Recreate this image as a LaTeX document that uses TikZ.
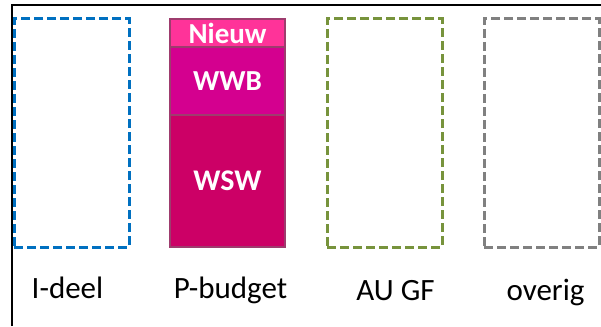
\documentclass[tikz,border=0pt]{standalone}
\usepackage{fontspec}
\setmainfont{Carlito}
\usetikzlibrary{positioning}
\definecolor{ideelblue}{HTML}{0070C0}
\definecolor{augreen}{HTML}{77933C}
\definecolor{overiggray}{HTML}{808080}
\definecolor{nieuwpink}{HTML}{FF3399}
\definecolor{wwbpink}{HTML}{D4008F}
\definecolor{wswred}{HTML}{CC0066}
\definecolor{stackedge}{HTML}{9E3C6E}
\begin{document}
\begin{tikzpicture}[x=1pt,y=1pt]
        \tikzstyle{potje}=[rectangle, dashed, dash pattern=on 9pt off 4pt, line width=3pt, minimum width=115pt, minimum height=228pt, outer sep=0pt, inner sep=0pt]
        \tikzstyle{deel}=[rectangle, draw=stackedge, line width=1.8pt, minimum width=115pt, outer sep=0pt, inner sep=0pt, text=white, font=\bfseries]
        \tikzstyle{naam}=[inner sep=0pt, anchor=base, font=\fontsize{31}{33}\selectfont]
    
        \useasboundingbox (0,0) rectangle (601,-326);
        \draw[line width=2.2pt] (12,-326) -- (12,-5) -- (601,-5);
    
        \node[potje, draw=ideelblue] (ideel) at (71.5,-133) {};
        \node[deel, fill=wswred, minimum height=132pt, anchor=south west, font=\bfseries\fontsize{30}{31}\selectfont] (wsw) at ([xshift=41pt]ideel.south east) {WSW};
        \node[deel, fill=wwbpink, minimum height=68pt, above=0pt of wsw, font=\bfseries\fontsize{29}{30}\selectfont] (wwb) {WWB};
        \node[deel, fill=nieuwpink, minimum height=28pt, above=0pt of wwb, font=\bfseries\fontsize{29}{29}\selectfont] (nieuw) {Nieuw};
        \node[potje, draw=augreen, right=42pt of wsw.south east, anchor=south west] (augf) {};
        \node[potje, draw=overiggray, right=42pt of augf] (overig) {};
        
        \node[naam] (lideel) at ([xshift=-4pt,yshift=-51pt]ideel.south) {I-deel};
        \node[naam] (lpbudget) at ([xshift=3pt,yshift=-51pt]wsw.south) {P-budget};
        \node[naam] (laugf) at ([xshift=11pt,yshift=-53pt]augf.south) {AU GF};
        \node[naam] (loverig) at ([xshift=4pt,yshift=-53pt]overig.south) {overig};
    \end{tikzpicture}
\end{document}
